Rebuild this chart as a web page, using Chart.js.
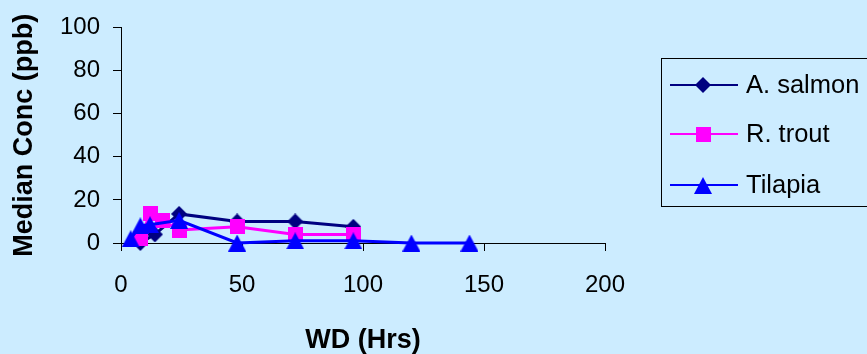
<!DOCTYPE html>
<html>
<head>
<meta charset="utf-8">
<title>Median Conc vs WD</title>
<script src="https://cdn.jsdelivr.net/npm/chart.js"></script>
<style>
  html, body { margin: 0; padding: 0; background: #CCECFF; }
  #wrap { width: 867px; height: 354px; position: relative; }
</style>
</head>
<body>
<div id="wrap"><canvas id="chart" width="867" height="354"></canvas></div>
<script>
// withdrawal time (hrs) and median concentration (ppb) per species
const salmonHrs = [8, 14, 24, 48, 72, 96];
const salmonConc = [0, 4, 13.5, 10, 10, 7.5];
const troutHrs = [8, 12, 17, 24, 48, 72, 96];
const troutConc = [2, 13.5, 10.5, 6, 7.5, 4, 4];
const tilapiaHrs = [4, 8, 12, 24, 48, 72, 96, 120, 144];
const tilapiaConc = [2, 8, 8.5, 10.5, 0, 1, 1, 0, 0];

const xTicks = [0, 50, 100, 150, 200];
const yTicks = [0, 20, 40, 60, 80, 100];

const FONT = "'Liberation Sans', Arial, sans-serif";

// marker sprites, shared by the plot and the legend
function makeMarker(shape, w, h, color) {
  const c = document.createElement('canvas');
  c.width = w;
  c.height = h;
  const g = c.getContext('2d');
  g.fillStyle = color;
  g.beginPath();
  if (shape === 'diamond') {
    g.moveTo(w / 2, 0); g.lineTo(w, h / 2); g.lineTo(w / 2, h); g.lineTo(0, h / 2);
  } else if (shape === 'square') {
    g.rect(0, 0, w, h);
  } else {
    g.moveTo(w / 2, 0); g.lineTo(w, h); g.lineTo(0, h);
  }
  g.closePath();
  g.fill();
  return c;
}

const series = [
  { label: 'A. salmon', xs: salmonHrs, ys: salmonConc, color: '#000080', marker: makeMarker('diamond', 16, 16, '#000080'), order: 3 },
  { label: 'R. trout', xs: troutHrs, ys: troutConc, color: '#FF00FF', marker: makeMarker('square', 15, 15, '#FF00FF'), order: 2 },
  { label: 'Tilapia', xs: tilapiaHrs, ys: tilapiaConc, color: '#0000FF', marker: makeMarker('triangle', 18, 17, '#0000FF'), order: 1 },
];

const pair = (xs, ys) => xs.map((x, i) => ({ x: x, y: ys[i] }));

const legendBox = {
  id: 'legendBox',
  afterDraw(chart) {
    const ctx = chart.ctx;
    ctx.save();
    ctx.strokeStyle = '#000';
    ctx.lineWidth = 1;
    ctx.strokeRect(661.5, 58.5, 240, 148);
    const rows = [85, 134, 185];
    series.forEach((s, i) => {
      const y = rows[i];
      ctx.strokeStyle = s.color;
      ctx.lineWidth = 2;
      ctx.beginPath();
      ctx.moveTo(670, y);
      ctx.lineTo(738, y);
      ctx.stroke();
      const m = s.marker;
      ctx.drawImage(m, Math.round(703 - m.width / 2), Math.round(y - m.height / 2));
      ctx.fillStyle = '#000';
      ctx.font = '25.5px ' + FONT;
      ctx.textBaseline = 'middle';
      ctx.fillText(s.label, 746, y + 1);
    });
    ctx.restore();
  }
};

new Chart(document.getElementById('chart'), {
  type: 'scatter',
  data: {
    datasets: series.map(s => ({
      label: s.label,
      data: pair(s.xs, s.ys),
      showLine: true,
      clip: false,
      borderColor: s.color,
      backgroundColor: s.color,
      borderWidth: 3,
      pointStyle: s.marker,
      pointRadius: 9,
      pointHoverRadius: 9,
      order: s.order,
    })),
  },
  plugins: [legendBox],
  options: {
    responsive: false,
    animation: false,
    events: [],
    layout: { padding: { top: 23, right: 262, bottom: 0, left: 0 } },
    plugins: {
      legend: { display: false },
      tooltip: { enabled: false },
    },
    scales: {
      x: {
        type: 'linear',
        min: 0,
        max: 200,
        afterBuildTicks: axis => { axis.ticks = xTicks.map(v => ({ value: v })); },
        afterFit: axis => { axis.height = 111; },
        grid: { drawOnChartArea: false, drawTicks: true, tickLength: 8, color: '#000' },
        border: { display: true, color: '#000', width: 1 },
        ticks: { color: '#000', padding: 20, maxRotation: 0, font: { family: FONT, size: 24 } },
        title: {
          display: true,
          text: 'WD (Hrs)',
          color: '#000',
          padding: { top: 0, bottom: 0 },
          font: { family: FONT, size: 27, weight: 'bold', lineHeight: 1 },
        },
      },
      y: {
        type: 'linear',
        min: 0,
        max: 100,
        afterBuildTicks: axis => { axis.ticks = yTicks.map(v => ({ value: v })); },
        afterFit: axis => { axis.width = 121; },
        grid: { drawOnChartArea: false, drawTicks: true, tickLength: 8, color: '#000' },
        border: { display: true, color: '#000', width: 1 },
        ticks: { color: '#000', padding: 13, font: { family: FONT, size: 24 } },
        title: {
          display: true,
          text: 'Median Conc (ppb)',
          color: '#000',
          padding: { top: 11, bottom: 0 },
          font: { family: FONT, size: 27, weight: 'bold', lineHeight: 1 },
        },
      },
    },
  },
});
</script>
</body>
</html>
